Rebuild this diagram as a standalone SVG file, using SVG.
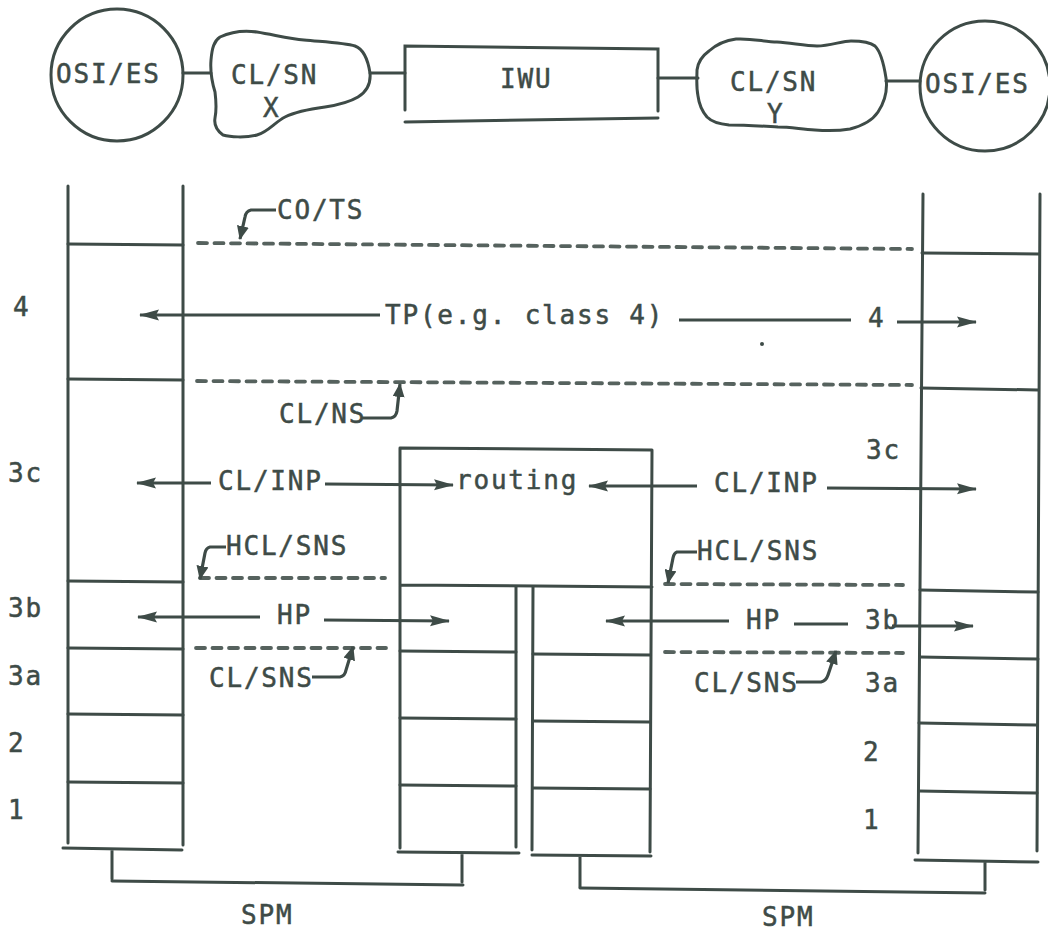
<svg xmlns="http://www.w3.org/2000/svg" width="1048" height="931" viewBox="0 0 1048 931">
<style>
.ln{stroke:#3e4b47;stroke-width:3;fill:none;stroke-linecap:round}
.dash{stroke:#56625e;stroke-width:3.8;fill:none;stroke-linecap:round;stroke-dasharray:9 7.5}
.ar{stroke:#3e4b47;stroke-width:3.2;fill:none}
.t{font-family:"DejaVu Sans Mono","Liberation Mono",monospace;font-size:26px;letter-spacing:1.8px;fill:#3e4b47;stroke:#3e4b47;stroke-width:0.5}
</style>
<defs>
<marker id="ah" viewBox="0 0 20 12" refX="19" refY="6" markerWidth="20" markerHeight="12" markerUnits="userSpaceOnUse" orient="auto"><path d="M0,0.5 L20,6 L0,11.5 L3,6 Z" fill="#3e4b47"/></marker>
<marker id="ahs" viewBox="0 0 14 12" refX="13" refY="6" markerWidth="14" markerHeight="12" markerUnits="userSpaceOnUse" orient="auto"><path d="M0,0 L14,6 L0,12 Z" fill="#3e4b47"/></marker>
</defs>
<rect width="1048" height="931" fill="#ffffff"/>

<!-- top row -->
<g id="osi-es-left">
<circle cx="117" cy="75" r="66" class="ln"/>
<text class="t" x="56" y="83">OSI/ES</text>
</g>
<g id="clsn-x">
<path class="ln" d="M220,37 C235,30 250,31 257,32 C275,35 290,39 304,40 C325,42 345,43 355,46 C363,49 368,60 370,73 C371,84 366,92 358,97 C348,103 338,105 325,107 C310,109 297,111 285,117 C275,122 268,132 257,135 C245,138 230,137 223,135 C216,130 214,124 215,118 C217,108 216,100 215,92 C212,82 210,72 211,60 C212,48 214,41 220,37 Z"/>
<text class="t" x="231" y="84">CL/SN</text>
<text class="t" x="263" y="117">X</text>
</g>
<g id="iwu">
<path class="ln" d="M405,110 L405,46 L658,49 L658,111"/>
<path class="ln" d="M405,122 L658,118"/>
<text class="t" x="500" y="88">IWU</text>
</g>
<g id="clsn-y">
<path class="ln" d="M709,51 C718,43 728,40 736,39 C752,38 765,42 777,42 C792,43 805,46 817,46 C830,46 842,41 851,41 C862,41 870,42 875,46 C881,52 884,65 886,78 C888,92 884,103 878,112 C872,121 862,126 850,129 C838,131 828,131 815,130 C800,129 790,127 778,127 C760,126 745,125 729,125 C718,124 712,122 707,117 C701,110 699,104 698,96 C696,86 697,78 697,70 C698,62 702,56 709,51 Z"/>
<text class="t" x="730" y="91">CL/SN</text>
<text class="t" x="767" y="123">Y</text>
</g>
<g id="osi-es-right">
<circle cx="985" cy="86" r="65" class="ln"/>
<text class="t" x="925" y="93">OSI/ES</text>
</g>

<!-- stacks -->
<g id="stack-left">
<path class="ln" d="M68,186 L68,843 M183,186 L183,845"/>
<path class="ln" d="M68,244 L183,245 M68,379 L183,380 M68,581 L183,582 M68,648 L183,649 M68,714 L183,715 M68,782 L183,783"/>
<path class="ln" d="M63,848 L182,850 M112,850 L112,879"/>
<text class="t" x="13" y="316">4</text>
<text class="t" x="8" y="482">3c</text>
<text class="t" x="8" y="617">3b</text>
<text class="t" x="8" y="685">3a</text>
<text class="t" x="8" y="752">2</text>
<text class="t" x="8" y="819">1</text>
</g>
<g id="iwu-stack">
<path class="ln" d="M400,448 L652,450 M400,448 L400,848 M652,450 L650,852 M400,585 L652,587"/>
<path class="ln" d="M516,587 L516,847 M533,587 L532,850"/>
<path class="ln" d="M400,651 L516,652 M400,718 L516,719 M400,785 L516,786"/>
<path class="ln" d="M533,654 L650,655 M533,721 L650,722 M533,788 L650,789"/>
<path class="ln" d="M398,852 L519,853 M462,853 L462,882"/>
<path class="ln" d="M532,855 L651,856 M580,856 L580,887"/>
<text class="t" x="456" y="489">routing</text>
</g>
<g id="stack-right">
<path class="ln" d="M923,194 L918,853 M1040,194 L1037,851"/>
<path class="ln" d="M922,253 L1039,254 M921,388 L1038,390 M920,590 L1038,592 M920,657 L1038,659 M919,723 L1037,725 M919,791 L1037,793"/>
<path class="ln" d="M915,860 L1038,862 M985,862 L985,890"/>
<text class="t" x="866" y="459">3c</text>
<text class="t" x="865" y="629">3b</text>
<text class="t" x="865" y="692">3a</text>
<text class="t" x="863" y="761">2</text>
<text class="t" x="863" y="829">1</text>
</g>
<g id="spm-left">
<path class="ln" d="M112,881 L463,885"/>
<text class="t" x="241" y="924">SPM</text>
</g>
<g id="spm-right">
<path class="ln" d="M580,888 L985,893"/>
<text class="t" x="762" y="926">SPM</text>
</g>

<!-- connectors -->
<g id="connectors">
<path class="ln" d="M183,73 L211,73 M370,73 L405,73 M658,78 L698,78 M886,81 L920,81"/>
<path class="dash" d="M198,243 L912,249"/>
<path class="dash" d="M197,381 L912,385"/>
<path class="dash" d="M200,578 L385,578"/>
<path class="dash" d="M196,648 L386,648"/>
<path class="dash" d="M665,584 L903,585"/>
<path class="dash" d="M665,652 L903,653"/>
<path class="ar" d="M380,315 L140,315" marker-end="url(#ah)"/>
<path class="ar" d="M679,320 L851,320"/>
<path class="ar" d="M897,322 L976,322" marker-end="url(#ah)"/>
<path class="ar" d="M211,483 L137,483" marker-end="url(#ah)"/>
<path class="ar" d="M325,484 L453,485" marker-end="url(#ah)"/>
<path class="ar" d="M697,486 L589,486" marker-end="url(#ah)"/>
<path class="ar" d="M827,488 L976,489" marker-end="url(#ah)"/>
<path class="ar" d="M260,617 L138,617" marker-end="url(#ah)"/>
<path class="ar" d="M324,620 L449,621" marker-end="url(#ah)"/>
<path class="ar" d="M729,621 L606,621" marker-end="url(#ah)"/>
<path class="ar" d="M794,624 L848,624"/>
<path class="ar" d="M892,626 L973,626" marker-end="url(#ah)"/>
<path class="ar" d="M276,210 L251,210 Q246,211 245,217 L240,239" marker-end="url(#ahs)"/>
<path class="ar" d="M361,418 L391,418 Q396,417 397,411 L400,384" marker-end="url(#ahs)"/>
<path class="ar" d="M226,547 L210,547 Q206,548 205,553 L200,579" marker-end="url(#ahs)"/>
<path class="ar" d="M312,677 L340,677 Q345,676 346,670 L353,647" marker-end="url(#ahs)"/>
<path class="ar" d="M697,552 L677,552 Q674,553 673,558 L668,583" marker-end="url(#ahs)"/>
<path class="ar" d="M796,682 L821,682 Q826,681 828,675 L836,651" marker-end="url(#ahs)"/>
</g>

<g id="labels">
<text class="t" x="277" y="219">CO/TS</text>
<text class="t" x="385" y="324">TP(e.g. class 4)</text>
<text class="t" x="868" y="327">4</text>
<text class="t" x="279" y="423">CL/NS</text>
<text class="t" x="218" y="490">CL/INP</text>
<text class="t" x="714" y="492">CL/INP</text>
<text class="t" x="226" y="555">HCL/SNS</text>
<text class="t" x="697" y="560">HCL/SNS</text>
<text class="t" x="277" y="624">HP</text>
<text class="t" x="746" y="629">HP</text>
<text class="t" x="209" y="687">CL/SNS</text>
<text class="t" x="694" y="692">CL/SNS</text>
</g>
<circle cx="762" cy="344" r="2" fill="#3e4b47"/>
</svg>
